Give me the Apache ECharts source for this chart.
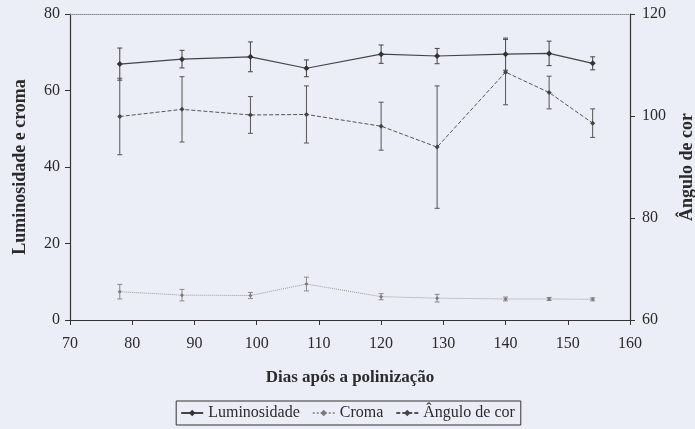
<!DOCTYPE html>
<html>
<head>
<meta charset="utf-8">
<script src="https://cdn.jsdelivr.net/npm/echarts@6/dist/echarts.min.js"></script>
<style>
html,body{margin:0;padding:0;background:#eceef7;}
#c{width:695px;height:429px;}
</style>
</head>
<body>
<div id="c"></div>
<script>
var days = [78, 88, 99, 108, 120, 129, 140, 147, 154];
var lumMean = [66.9, 68.2, 68.8, 65.8, 69.5, 69.0, 69.5, 69.7, 67.1];
var lumErr  = [4.2, 2.3, 3.9, 2.2, 2.4, 2.0, 4.2, 3.2, 1.7];
var cromaMean = [7.4, 6.5, 6.4, 9.4, 6.1, 5.7, 5.5, 5.5, 5.4];
var cromaErr  = [1.9, 1.5, 0.8, 1.8, 0.8, 1.0, 0.5, 0.4, 0.4];
var anguloMean = [99.9, 101.3, 100.2, 100.3, 98.0, 93.9, 108.6, 104.6, 98.6];
var anguloErr  = [7.5, 6.4, 3.6, 5.6, 4.7, 12.0, 6.4, 3.2, 2.8];
var xTicks = [70, 80, 90, 100, 110, 120, 130, 140, 150, 160];
var yLeftTicks = [0, 20, 40, 60, 80];
var yRightTicks = [60, 80, 100, 120];

var FONT = '"Liberation Serif", "DejaVu Serif", serif';
var INK = '#2b2b2b';

function pairs(m){ return days.map(function(d,i){ return [d, m[i]]; }); }
function errData(m,e){ return days.map(function(d,i){ return [d, m[i]-e[i], m[i]+e[i]]; }); }

function errSeries(name, m, e, yIdx, color){
  return {
    name: name, type: 'custom', yAxisIndex: yIdx, silent: true, z: 3,
    data: errData(m,e),
    renderItem: function(params, api){
      var x = api.value(0);
      var lo = api.coord([x, api.value(1)]);
      var hi = api.coord([x, api.value(2)]);
      var w = 2.5;
      return {type:'group', children:[
        {type:'line', shape:{x1:lo[0],y1:lo[1],x2:hi[0],y2:hi[1]}, style:{stroke:color,lineWidth:1}},
        {type:'line', shape:{x1:lo[0]-w,y1:lo[1],x2:lo[0]+w,y2:lo[1]}, style:{stroke:color,lineWidth:1}},
        {type:'line', shape:{x1:hi[0]-w,y1:hi[1],x2:hi[0]+w,y2:hi[1]}, style:{stroke:color,lineWidth:1}}
      ]};
    }
  };
}

var chart = echarts.init(document.getElementById('c'));
chart.setOption({
  backgroundColor: '#eceef7',
  animation: false,
  textStyle: {fontFamily: FONT, color: INK},
  grid: {left: 70, right: 65, top: 14, bottom: 109, containLabel: false, outerBoundsMode: 'none'},
  legend: {
    data: ['Luminosidade', 'Croma', 'Ângulo de cor'],
    bottom: 4, left: 'center',
    borderColor: '#333', borderWidth: 1, borderRadius: 0,
    padding: [4, 6, 4, 4],
    itemWidth: 22, itemHeight: 8, itemGap: 12,
    textStyle: {fontFamily: FONT, fontSize: 16, color: INK}
  },
  xAxis: [{
    type: 'value', min: 70, max: 160, interval: 10,
    name: 'Dias após a polinização', nameLocation: 'middle', nameGap: 49,
    nameTextStyle: {fontFamily: FONT, fontWeight: 'bold', fontSize: 17, color: INK},
    axisLine: {show: true, lineStyle: {color: '#333', width: 1.2}},
    axisTick: {show: true, inside: false, length: 5, lineStyle: {color: '#333'}},
    axisLabel: {fontFamily: FONT, fontSize: 16, color: INK, margin: 16},
    splitLine: {show: false}
  }, {
    type: 'value', min: 70, max: 160, position: 'top',
    axisLine: {show: true, lineStyle: {color: '#888', width: 1, type: 'dotted'}},
    axisTick: {show: false}, axisLabel: {show: false}, splitLine: {show: false}
  }],
  yAxis: [{
    type: 'value', min: 0, max: 80, interval: 20, position: 'left',
    name: 'Luminosidade e croma', nameLocation: 'middle', nameGap: 41, nameRotate: 90,
    nameTextStyle: {fontFamily: FONT, fontWeight: 'bold', fontSize: 18, color: INK},
    axisLine: {show: true, lineStyle: {color: '#333', width: 1.2}},
    axisTick: {show: true, inside: false, length: 5, lineStyle: {color: '#333'}},
    axisLabel: {fontFamily: FONT, fontSize: 16, color: INK, margin: 10},
    splitLine: {show: false}
  }, {
    type: 'value', min: 60, max: 120, interval: 20, position: 'right',
    name: 'Ângulo de cor', nameLocation: 'middle', nameGap: 48, nameRotate: 90,
    nameTextStyle: {fontFamily: FONT, fontWeight: 'bold', fontSize: 18, color: INK},
    axisLine: {show: true, lineStyle: {color: '#333', width: 1.2}},
    axisTick: {show: true, inside: false, length: 5, lineStyle: {color: '#333'}},
    axisLabel: {fontFamily: FONT, fontSize: 16, color: INK, margin: 12},
    splitLine: {show: false}
  }],
  series: [
    errSeries('errLum', lumMean, lumErr, 0, '#444'),
    errSeries('errCroma', cromaMean, cromaErr, 0, '#8a8a8a'),
    errSeries('errAng', anguloMean, anguloErr, 1, '#555'),
    {
      name: 'Luminosidade', type: 'line', yAxisIndex: 0, data: pairs(lumMean),
      symbol: 'diamond', symbolSize: 6, z: 5,
      lineStyle: {color: '#444', width: 1.1},
      itemStyle: {color: '#333'}
    },
    {
      name: 'Croma', type: 'line', yAxisIndex: 0, data: pairs(cromaMean),
      symbol: 'diamond', symbolSize: 4, z: 5,
      lineStyle: {color: '#9a9a9a', width: 1, type: 'dotted'},
      itemStyle: {color: '#7a7a7a'}
    },
    {
      name: 'Ângulo de cor', type: 'line', yAxisIndex: 1, data: pairs(anguloMean),
      symbol: 'diamond', symbolSize: 5, z: 5,
      lineStyle: {color: '#555', width: 1, type: [4, 2]},
      itemStyle: {color: '#444'}
    }
  ]
});
</script>
</body>
</html>
